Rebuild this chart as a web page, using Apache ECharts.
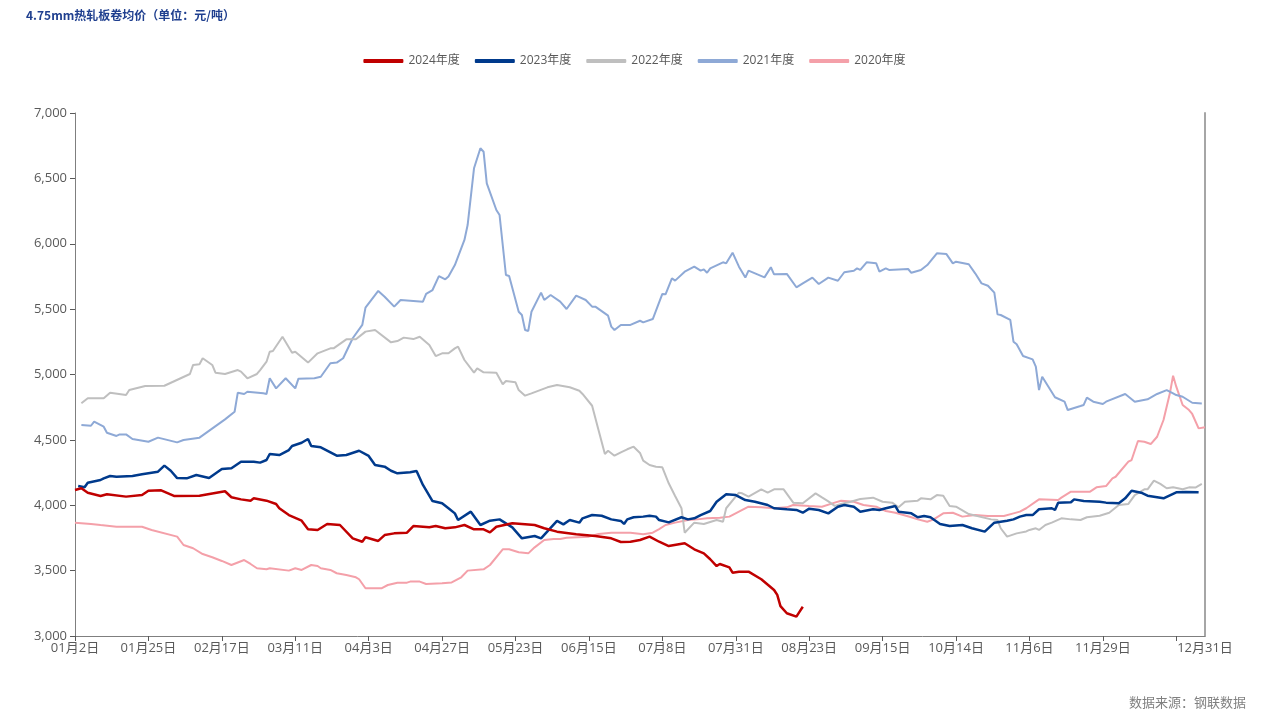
<!DOCTYPE html>
<html>
<head>
<meta charset="utf-8">
<script src="https://cdn.jsdelivr.net/npm/echarts@6/dist/echarts.min.js"></script>
<style>
html,body{margin:0;padding:0;background:#fff;}
#chart{width:1269px;height:723px;}
</style>
</head>
<body>
<div id="chart"></div>
<script>
// ---- data (x = trading-day index on the category axis, y = price 元/吨) ----
const YEAR_START = '2024-01-02';
const YEAR_END = '2024-12-31';
const SKIP_DAYS = ['04-04','05-01','05-02','05-03','10-01','10-02','10-03','10-04','10-05','10-06'];
const seriesNames = ['2024年度','2023年度','2022年度','2021年度','2020年度'];
const seriesColors = ['#C00000','#003A8C','#BFBFBF','#8EA9D6','#F4A0A9'];
const yTicks = [3000, 3500, 4000, 4500, 5000, 5500, 6000, 6500, 7000];

const s2024 = [[0,4117],[2,4130],[4,4096],[8,4071],[10,4084],[16,4066],[21,4078],[23,4111],[27,4114],[31,4071],[39,4073],[47,4107],[49,4061],[52,4045],[55,4035],[56,4053],[60,4035],[63,4010],[64,3977],[67,3925],[71,3882],[73,3816],[76,3811],[79,3857],[83,3849],[87,3747],[90,3721],[91,3755],[95,3727],[97,3772],[100,3785],[104,3790],[106,3841],[111,3831],[113,3841],[116,3824],[119,3831],[122,3849],[125,3816],[128,3816],[130,3793],[132,3836],[137,3862],[144,3849],[147,3824],[151,3798],[157,3778],[163,3765],[168,3747],[171,3719],[174,3721],[177,3734],[180,3760],[183,3721],[186,3688],[191,3709],[194,3663],[197,3632],[199,3587],[201,3535],[202,3551],[205,3525],[206,3484],[208,3492],[211,3492],[215,3434],[219,3352],[220,3314],[221,3229],[223,3174],[226,3148],[227,3186],[228,3224]];

const s2023 = [[1,4147],[3,4137],[4,4172],[8,4193],[9,4206],[11,4224],[13,4218],[18,4224],[21,4237],[26,4257],[28,4303],[30,4264],[32,4208],[35,4206],[38,4231],[42,4208],[46,4277],[49,4283],[52,4333],[56,4333],[58,4326],[60,4346],[61,4392],[64,4384],[67,4422],[68,4453],[71,4478],[73,4507],[74,4453],[77,4443],[82,4379],[85,4384],[89,4417],[92,4377],[94,4308],[97,4295],[99,4264],[101,4244],[105,4252],[107,4262],[109,4155],[112,4032],[115,4015],[117,3977],[119,3938],[120,3887],[124,3951],[127,3849],[130,3882],[133,3892],[137,3831],[140,3747],[144,3765],[146,3747],[151,3880],[153,3854],[155,3887],[158,3867],[159,3900],[162,3925],[165,3920],[168,3892],[171,3880],[172,3857],[173,3892],[175,3908],[178,3913],[180,3920],[182,3913],[183,3887],[186,3869],[190,3908],[192,3892],[194,3900],[196,3925],[199,3956],[201,4027],[204,4084],[207,4078],[210,4040],[213,4027],[217,4002],[219,3977],[223,3969],[226,3964],[228,3943],[230,3974],[233,3964],[236,3938],[239,3989],[241,4002],[244,3989],[246,3951],[250,3969],[252,3964],[254,3977],[257,3994],[258,3951],[262,3938],[264,3908],[266,3918],[268,3908],[271,3857],[274,3841],[278,3849],[281,3824],[285,3798],[288,3867],[292,3882],[294,3892],[296,3913],[298,3925],[300,3925],[302,3969],[306,3977],[307,3964],[308,4020],[312,4023],[313,4045],[316,4032],[321,4027],[323,4020],[327,4015],[329,4053],[331,4111],[334,4096],[336,4073],[341,4053],[345,4099],[348,4101],[352,4099]];

const s2022 = [[2,4780],[4,4818],[9,4818],[11,4861],[16,4843],[17,4881],[22,4912],[28,4914],[36,5004],[37,5073],[39,5078],[40,5124],[43,5073],[44,5014],[47,5004],[51,5034],[52,5022],[54,4971],[57,5004],[58,5034],[60,5098],[61,5174],[62,5180],[65,5289],[68,5167],[69,5174],[73,5091],[76,5162],[80,5200],[81,5200],[85,5269],[88,5269],[91,5328],[94,5340],[99,5246],[101,5256],[103,5282],[106,5271],[108,5289],[111,5226],[113,5141],[115,5162],[117,5162],[119,5200],[120,5213],[122,5111],[125,5014],[126,5047],[128,5017],[132,5014],[134,4925],[135,4950],[138,4940],[139,4881],[141,4838],[143,4856],[148,4902],[151,4920],[155,4902],[158,4876],[159,4851],[162,4761],[164,4575],[166,4392],[167,4417],[169,4379],[171,4405],[173,4428],[175,4448],[177,4400],[178,4341],[180,4308],[182,4295],[184,4290],[186,4168],[188,4071],[190,3977],[191,3790],[194,3867],[197,3857],[201,3887],[203,3874],[204,3977],[208,4096],[209,4091],[211,4066],[215,4122],[217,4096],[219,4122],[222,4122],[225,4020],[228,4015],[232,4091],[234,4060],[236,4030],[238,3995],[240,4010],[243,4027],[246,4048],[250,4058],[253,4027],[256,4020],[258,3984],[260,4027],[264,4035],[265,4053],[268,4045],[270,4078],[272,4073],[274,3994],[276,3989],[280,3933],[287,3892],[289,3887],[290,3824],[292,3760],[295,3785],[298,3800],[299,3811],[301,3824],[302,3811],[304,3849],[306,3867],[309,3900],[312,3892],[315,3887],[317,3908],[321,3920],[324,3943],[327,4002],[330,4010],[332,4078],[335,4122],[336,4122],[338,4188],[340,4163],[342,4130],[344,4137],[347,4122],[349,4137],[351,4135],[353,4163]];

const s2021 = [[2,4614],[5,4608],[6,4639],[9,4601],[10,4555],[13,4530],[14,4542],[16,4542],[18,4507],[23,4486],[26,4517],[32,4481],[34,4499],[39,4517],[47,4657],[50,4715],[51,4861],[53,4851],[54,4868],[59,4856],[60,4851],[61,4971],[63,4894],[66,4971],[69,4894],[70,4968],[75,4971],[77,4983],[80,5086],[82,5091],[84,5124],[87,5277],[90,5379],[91,5511],[95,5639],[97,5595],[100,5519],[102,5570],[109,5557],[110,5616],[112,5646],[114,5753],[116,5728],[117,5750],[119,5837],[122,6029],[123,6143],[125,6577],[127,6730],[128,6704],[129,6462],[132,6258],[133,6220],[135,5761],[136,5753],[139,5480],[140,5455],[141,5340],[142,5333],[143,5480],[146,5626],[147,5570],[149,5608],[152,5557],[154,5501],[157,5603],[160,5570],[162,5519],[163,5519],[167,5450],[168,5366],[169,5340],[171,5379],[174,5379],[177,5411],[178,5399],[181,5424],[184,5616],[185,5613],[187,5736],[188,5718],[191,5786],[194,5825],[196,5794],[197,5804],[198,5778],[199,5812],[203,5858],[204,5850],[206,5932],[208,5825],[210,5741],[211,5794],[216,5743],[218,5820],[219,5766],[223,5769],[226,5667],[228,5697],[231,5741],[233,5692],[236,5741],[239,5717],[241,5782],[244,5794],[245,5812],[246,5800],[248,5858],[251,5850],[252,5786],[254,5812],[255,5800],[261,5807],[262,5778],[265,5799],[267,5837],[270,5927],[273,5921],[275,5850],[276,5863],[280,5843],[282,5774],[284,5697],[286,5679],[288,5626],[289,5460],[290,5455],[293,5417],[294,5251],[295,5231],[297,5141],[300,5116],[301,5060],[302,4881],[303,4983],[307,4826],[310,4792],[311,4728],[315,4759],[316,4767],[317,4823],[319,4792],[322,4774],[323,4792],[329,4851],[332,4792],[336,4810],[339,4851],[342,4881],[344,4856],[345,4843],[347,4830],[350,4784],[353,4779]];

const s2020 = [[0,3867],[5,3857],[8,3849],[13,3836],[21,3836],[24,3811],[32,3760],[34,3696],[37,3671],[40,3627],[43,3602],[46,3574],[49,3543],[53,3581],[55,3551],[57,3518],[60,3510],[61,3518],[67,3500],[69,3518],[71,3505],[74,3543],[76,3535],[77,3518],[80,3505],[82,3480],[85,3467],[88,3449],[89,3434],[91,3365],[96,3365],[98,3390],[101,3408],[104,3408],[105,3416],[108,3416],[110,3398],[115,3403],[118,3410],[121,3449],[123,3500],[128,3510],[130,3543],[134,3663],[136,3663],[139,3640],[142,3632],[144,3678],[147,3734],[150,3742],[152,3742],[154,3752],[161,3760],[164,3780],[168,3790],[174,3790],[178,3778],[181,3790],[183,3818],[185,3849],[188,3867],[192,3887],[195,3892],[198,3900],[202,3905],[205,3913],[208,3951],[211,3989],[215,3984],[219,3977],[223,3984],[225,4002],[230,3994],[234,3989],[238,4020],[240,4035],[244,4027],[247,4002],[251,3989],[254,3956],[257,3943],[262,3908],[264,3892],[267,3874],[269,3892],[272,3938],[275,3943],[278,3913],[282,3925],[286,3918],[291,3918],[294,3938],[296,3951],[298,3977],[302,4045],[308,4040],[309,4058],[312,4104],[318,4104],[320,4137],[323,4147],[325,4206],[326,4218],[330,4333],[331,4346],[333,4491],[335,4486],[337,4468],[339,4524],[341,4652],[343,4856],[344,4991],[345,4907],[347,4767],[349,4728],[350,4698],[352,4588],[354,4596]];

// ---- categories: trading calendar days, labelled like 01月2日 ----
const categories = [];
(function () {
  const d = new Date(YEAR_START + 'T00:00:00Z');
  const end = new Date(YEAR_END + 'T00:00:00Z');
  while (d <= end) {
    const m = d.getUTCMonth() + 1, day = d.getUTCDate();
    const key = String(m).padStart(2, '0') + '-' + String(day).padStart(2, '0');
    if (SKIP_DAYS.indexOf(key) < 0) categories.push(String(m).padStart(2, '0') + '月' + day + '日');
    d.setUTCDate(d.getUTCDate() + 1);
  }
})();
const LAST = categories.length - 1;
const STEP = 23;

const FONT = '"Open Sans", "Noto Sans CJK SC", sans-serif';
const seriesData = [s2024, s2023, s2022, s2021, s2020];
const widths = [2.5, 2.5, 2, 2, 2];

const series = [];
for (let i = seriesNames.length - 1; i >= 0; i--) {
  series.push({
    name: seriesNames[i],
    type: 'line',
    data: seriesData[i],
    showSymbol: false,
    symbol: 'none',
    color: seriesColors[i],
    lineStyle: { width: widths[i], color: seriesColors[i] },
    z: 10 - i
  });
}

const chart = echarts.init(document.getElementById('chart'), null, { renderer: 'canvas' });
chart.setOption({
  animation: false,
  backgroundColor: '#ffffff',
  title: [
    { text: '4.75mm热轧板卷均价（单位：元/吨）', left: 21, top: 4,
      textStyle: { fontSize: 12, fontWeight: 'bold', color: '#1F3F8F', fontFamily: '"Noto Sans CJK SC", sans-serif' } },
    { text: '数据来源：钢联数据', right: 18, bottom: 9,
      textStyle: { fontSize: 13, fontWeight: 'normal', color: '#808080', fontFamily: '"Noto Sans CJK SC", sans-serif' } }
  ],
  legend: {
    top: 50, left: 'center',
    data: seriesNames,
    icon: 'roundRect', itemWidth: 40, itemHeight: 4, itemGap: 15,
    textStyle: { color: '#595959', fontSize: 12, fontFamily: FONT }
  },
  grid: { left: 75, right: 64, top: 113, bottom: 87, containLabel: false },
  xAxis: {
    type: 'category',
    data: categories,
    boundaryGap: false,
    axisLine: { lineStyle: { color: '#7F7F7F', width: 1 } },
    axisTick: { show: true, length: 5, interval: function (idx) { return idx % STEP === 0; }, lineStyle: { color: '#595959' } },
    axisLabel: {
      interval: function (idx) { return (idx % STEP === 0 && idx <= LAST - 30) || idx === LAST; },
      color: '#595959', fontSize: 13, fontFamily: FONT, margin: 6
    },
    splitLine: { show: false }
  },
  yAxis: [
    {
      type: 'value', min: yTicks[0], max: yTicks[yTicks.length - 1], interval: yTicks[1] - yTicks[0],
      axisLine: { show: true, lineStyle: { color: '#7F7F7F', width: 1 } },
      axisTick: { show: true, length: 5, lineStyle: { color: '#595959' } },
      axisLabel: {
        color: '#595959', fontSize: 13, fontFamily: FONT, margin: 8,
        formatter: function (v) { return String(v).replace(/\B(?=(\d{3})+(?!\d))/g, ','); }
      },
      splitLine: { show: false }
    },
    {
      type: 'value', position: 'right', min: yTicks[0], max: yTicks[yTicks.length - 1],
      axisLine: { show: true, lineStyle: { color: '#A6A6A6', width: 2 } },
      axisTick: { show: false }, axisLabel: { show: false }, splitLine: { show: false }
    }
  ],
  series: series
});
</script>
</body>
</html>
